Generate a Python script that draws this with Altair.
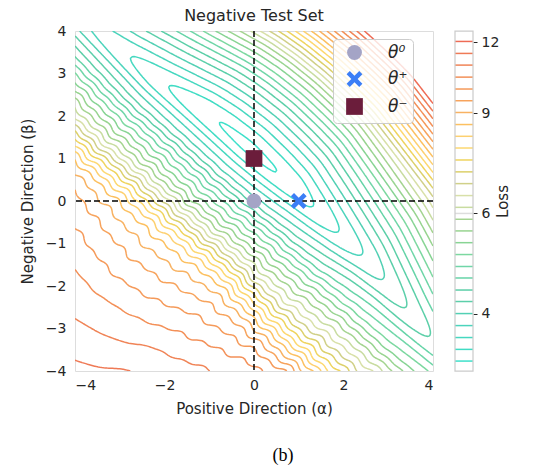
import numpy as np
import pandas as pd
import altair as alt

# ---------------- data ----------------
# valley floor (along d = alpha - beta): where it lies (s = alpha + beta) and its loss
valley_d    = [-10.0, -8.0, -6.53, -5.07, -3.39, -2.5, -1.4, -0.3, 0.56, 1.77, 2.9, 3.93, 4.98, 6.2, 8.0, 10.0]
valley_s    = [0.30, 0.45, 0.53, 0.67, 0.93, 1.02, 1.08, 1.12, 1.15, 1.12, 1.10, 1.10, 0.98, 0.80, 0.60, 0.40]
valley_loss = [3.95, 3.76, 3.63, 3.46, 3.30, 3.25, 3.22, 3.25, 3.30, 3.46, 3.63, 3.81, 4.00, 4.20, 4.50, 4.85]
# rise of log-loss across the valley vs offset (s - s_floor)
cross_off  = [-10.0, -8.17, -6.88, -6.2, -5.5, -4.9, -4.3, -3.9, -3.6, -3.29, -2.95, -2.59,
              -2.12, -1.65, -1.23, -1.01, -0.58, -0.25, 0.0, 0.25, 0.5, 1.0, 1.5, 2.0, 3.0, 4.0, 5.3, 7.0, 9.0, 10.0]
cross_rise = [1.30, 1.235, 1.18, 1.14, 1.10, 1.06, 1.005, 0.95, 0.88, 0.795, 0.69, 0.585,
              0.475, 0.365, 0.255, 0.20, 0.12, 0.035, 0.0, 0.014, 0.055, 0.14, 0.235, 0.335, 0.57, 0.88, 1.29, 1.80, 2.40, 2.70]
# the low side of the valley is a little wider toward the lower right
low_width_d = [-10.0, 1.0, 4.0, 10.0]
low_width   = [1.0, 1.0, 1.15, 1.15]
# small ripples on the low side of the valley (amplitude of log-loss vs offset)
ripple_off = [-7.0, -6.0, -4.6, -3.6, -2.6, -1.6, -0.8]
ripple_amp = [0.0, 0.002, 0.005, 0.011, 0.011, 0.006, 0.0]
ripple_wavelengths = [0.65, 1.1]
ripple_weights = [1.0, 0.5]

levels = [3.30, 3.46, 3.63, 3.81, 4.00, 4.20, 4.40, 4.62, 4.84, 5.08, 5.33, 5.59, 5.86, 6.15,
          6.45, 6.77, 7.10, 7.45, 7.82, 8.20, 8.60, 9.03, 9.47, 9.93, 10.42, 10.94, 11.47, 12.04]
level_colors = ["#3ee0ca", "#40dcc4", "#46d8c0", "#4cd4bc", "#52d0b4", "#5ccfaa", "#5ccfa8",
                "#66d4a8", "#70d6a8", "#7cd8a0", "#88d494", "#98d490", "#a4d490", "#c8dca0",
                "#d8e0a8", "#d0d088", "#dcd06a", "#efd45e", "#fdd870", "#fdd070", "#fcc060",
                "#f8b262", "#f7a35c", "#f59a5a", "#f39058", "#f08457", "#ef7a56", "#ee6b55"]

point_names = ["θ⁰", "θ⁺", "θ⁻"]
point_x = [0.0, 1.0, 0.0]
point_y = [0.0, 0.0, 1.0]
point_colors = ["#a4a4c6", "#3b7ef6", "#6b1d3b"]

cbar_ticks = [4, 6, 9, 12]

# ---------------- loss surface on a grid ----------------
step = 0.04
ext = np.arange(-4.6, 4.6 + 1e-9, step)
EX, EY = np.meshgrid(ext, ext)
S = EX + EY
D = EX - EY
floor_s = np.interp(D, valley_d, valley_s)
floor_ln = np.interp(D, valley_d, np.log(valley_loss))
OFF = S - floor_s
OFF_eff = np.where(OFF < 0, OFF / np.interp(D, low_width_d, low_width), OFF)
lnZ = floor_ln + np.interp(OFF_eff, cross_off, cross_rise)

# smooth (gaussian blur) to round the knots
sig = 3.0
k = np.arange(-10, 11)
ker = np.exp(-0.5 * (k / sig) ** 2)
ker /= ker.sum()
lnZ = np.apply_along_axis(lambda r: np.convolve(r, ker, mode="same"), 1, lnZ)
lnZ = np.apply_along_axis(lambda c: np.convolve(c, ker, mode="same"), 0, lnZ)
amp = np.interp(OFF_eff, ripple_off, ripple_amp, left=0.0, right=0.0)
wave = sum(w * np.sin(2 * np.pi * D / lam) for w, lam in zip(ripple_weights, ripple_wavelengths))
lnZ = lnZ + amp * wave

inside = (ext >= -4 - 1e-9) & (ext <= 4 + 1e-9)
xs = ext[inside]
ys = ext[inside]
Zg = lnZ[np.ix_(inside, inside)]


def trace(level):
    A = Zg > level

    def pt(key):
        typ, j, i = key
        if typ == "h":
            z0, z1 = Zg[j, i], Zg[j, i + 1]
            t = (level - z0) / (z1 - z0)
            return xs[i] + t * (xs[i + 1] - xs[i]), ys[j]
        z0, z1 = Zg[j, i], Zg[j + 1, i]
        t = (level - z0) / (z1 - z0)
        return xs[i], ys[j] + t * (ys[j + 1] - ys[j])

    c = A[:-1, :-1].astype(int) + A[:-1, 1:] + A[1:, :-1] + A[1:, 1:]
    cells = np.argwhere((c > 0) & (c < 4))
    adj = {}
    for j, i in cells:
        es = []
        if A[j, i] != A[j, i + 1]:
            es.append(("h", j, i))
        if A[j, i + 1] != A[j + 1, i + 1]:
            es.append(("v", j, i + 1))
        if A[j + 1, i] != A[j + 1, i + 1]:
            es.append(("h", j + 1, i))
        if A[j, i] != A[j + 1, i]:
            es.append(("v", j, i))
        if len(es) == 2:
            pairs = [(es[0], es[1])]
        elif len(es) == 4:
            mid = Zg[j:j + 2, i:i + 2].mean() > level
            if mid == A[j, i]:
                pairs = [(es[0], es[1]), (es[2], es[3])]
            else:
                pairs = [(es[0], es[3]), (es[1], es[2])]
        else:
            pairs = []
        for a, b in pairs:
            adj.setdefault(a, []).append(b)
            adj.setdefault(b, []).append(a)

    visited = set()

    def walk(start):
        path = [start]
        visited.add(start)
        cur = start
        while True:
            nxt = [n for n in adj[cur] if n not in visited]
            if not nxt:
                if start in adj[cur] and len(path) > 2:
                    path.append(start)
                break
            cur = nxt[0]
            visited.add(cur)
            path.append(cur)
        return path

    lines = []
    for n in list(adj):
        if len(adj[n]) == 1 and n not in visited:
            lines.append(walk(n))
    for n in list(adj):
        if n not in visited:
            lines.append(walk(n))
    return [[pt(p) for p in ln] for ln in lines]


rows = []
lid = 0
for lev, col in zip(levels, level_colors):
    for line in trace(np.log(lev)):
        for o, (px, py) in enumerate(line):
            rows.append({"lid": lid, "o": o, "x": round(float(px), 3), "y": round(float(py), 3), "col": col})
        lid += 1
contours = pd.DataFrame(rows)

pts = pd.DataFrame({"name": point_names, "x": point_x, "y": point_y})
cbar = pd.DataFrame({"level": levels, "col": level_colors})

# ---------------- chart ----------------
W, H = 358, 340
TXT = "#262626"
FONT = "DejaVu Sans"

xscale = alt.Scale(domain=[-4, 4], nice=False, zero=False)
yscale = alt.Scale(domain=[-4, 4], nice=False, zero=False)

xaxis = alt.Axis(values=[-4, -2, 0, 2, 4], title="Positive Direction (α)", grid=False, ticks=False,
                 domain=False, labelFontSize=14, titleFontSize=15, labelPadding=7, titlePadding=9,
                 labelColor=TXT, titleColor=TXT, labelFont=FONT, titleFont=FONT, titleFontWeight="normal")
yaxis = alt.Axis(values=[-4, -3, -2, -1, 0, 1, 2, 3, 4], title="Negative Direction (β)", grid=False,
                 ticks=False, domain=False, labelFontSize=14, titleFontSize=15, labelPadding=9,
                 titlePadding=10, labelColor=TXT, titleColor=TXT, labelFont=FONT, titleFont=FONT,
                 titleFontWeight="normal")

lines = alt.Chart(contours).mark_line(strokeWidth=1.5, clip=True).encode(
    x=alt.X("x:Q", scale=xscale, axis=xaxis),
    y=alt.Y("y:Q", scale=yscale, axis=yaxis),
    detail="lid:N",
    order="o:Q",
    color=alt.Color("col:N", scale=None),
)

vrule = alt.Chart(pd.DataFrame({"x": [0.0]})).mark_rule(
    color="black", strokeWidth=1.5, strokeDash=[6, 3]).encode(x=alt.X("x:Q", scale=xscale))
hrule = alt.Chart(pd.DataFrame({"y": [0.0]})).mark_rule(
    color="black", strokeWidth=1.5, strokeDash=[6, 3]).encode(y=alt.Y("y:Q", scale=yscale))

xshape = "M-1,-0.6L-0.6,-1L0,-0.4L0.6,-1L1,-0.6L0.4,0L1,0.6L0.6,1L0,0.4L-0.6,1L-1,0.6L-0.4,0Z"
leg = alt.Legend(title=" ", titleOrient="left", titleFontSize=8, titlePadding=7,
                 orient="none", legendX=258, legendY=8,
                 fillColor="rgba(255,255,255,0.8)", strokeColor="#cccccc",
                 cornerRadius=4, padding=5, symbolSize=210, labelFontSize=17,
                 labelFont=FONT, labelFontStyle="italic", labelColor=TXT,
                 rowPadding=5, labelOffset=24, symbolOpacity=1)
points = alt.Chart(pts).mark_point(filled=True, opacity=1).encode(
    x=alt.X("x:Q", scale=xscale),
    y=alt.Y("y:Q", scale=yscale),
    color=alt.Color("name:N", scale=alt.Scale(domain=point_names, range=point_colors), legend=leg),
    shape=alt.Shape("name:N", scale=alt.Scale(domain=point_names, range=["circle", xshape, "square"]),
                    legend=leg),
    size=alt.Size("name:N", scale=alt.Scale(domain=point_names, range=[220, 280, 230]), legend=None),
)

main = alt.layer(lines, vrule, hrule, points)

cb_scale = alt.Scale(type="log", domain=[3.17, 12.56], nice=False)
cb_axis = alt.Axis(orient="right", values=cbar_ticks, title="Loss", offset=40, grid=False, domain=False,
                   ticks=True, tickSize=4, tickColor=TXT, tickWidth=1, labelFontSize=14, titleFontSize=15,
                   labelPadding=4, titlePadding=12, titleAngle=270, labelColor=TXT, titleColor=TXT,
                   labelFont=FONT, titleFont=FONT, titleFontWeight="normal", format="d")

cb_grid = alt.Chart(pd.DataFrame({"level": [6.0]})).mark_rule(color="#dddddd", strokeWidth=1.5).encode(
    y=alt.Y("level:Q", scale=cb_scale, axis=cb_axis), x=alt.value(380), x2=alt.value(398))
cb_lines = alt.Chart(cbar).mark_rule(strokeWidth=1.5).encode(
    y=alt.Y("level:Q", scale=cb_scale, axis=cb_axis),
    x=alt.value(380), x2=alt.value(398),
    color=alt.Color("col:N", scale=None),
)
cb_frame = alt.Chart(pd.DataFrame({"a": [0]})).mark_rect(fill=None, stroke="#cccccc", strokeWidth=1.25).encode(
    x=alt.value(380), x2=alt.value(398), y=alt.value(0), y2=alt.value(H))
cb = alt.layer(cb_grid, cb_lines, cb_frame)

title_txt = alt.Chart(pd.DataFrame({"t": ["Negative Test Set"]})).mark_text(
    font=FONT, fontSize=16, color=TXT, align="center", baseline="middle").encode(
    text="t:N", x=alt.value(W / 2), y=alt.value(-15))
caption = alt.Chart(pd.DataFrame({"t": ["(b)"]})).mark_text(
    font="Liberation Serif", fontSize=18, color="black", align="center", baseline="middle").encode(
    text="t:N", x=alt.value(208), y=alt.value(425))

chart = alt.layer(main, cb, title_txt, caption).resolve_scale(y="independent").properties(
    width=W, height=H,
    padding={"left": 75, "top": 31, "right": 533 - 75 - W, "bottom": 471 - 31 - H},
    autosize=alt.AutoSizeParams(type="none"),
).configure_view(stroke="#cccccc", strokeWidth=1.25).configure(background="white")

chart.save("out.html", embed_options={"renderer": "svg", "actions": False})
